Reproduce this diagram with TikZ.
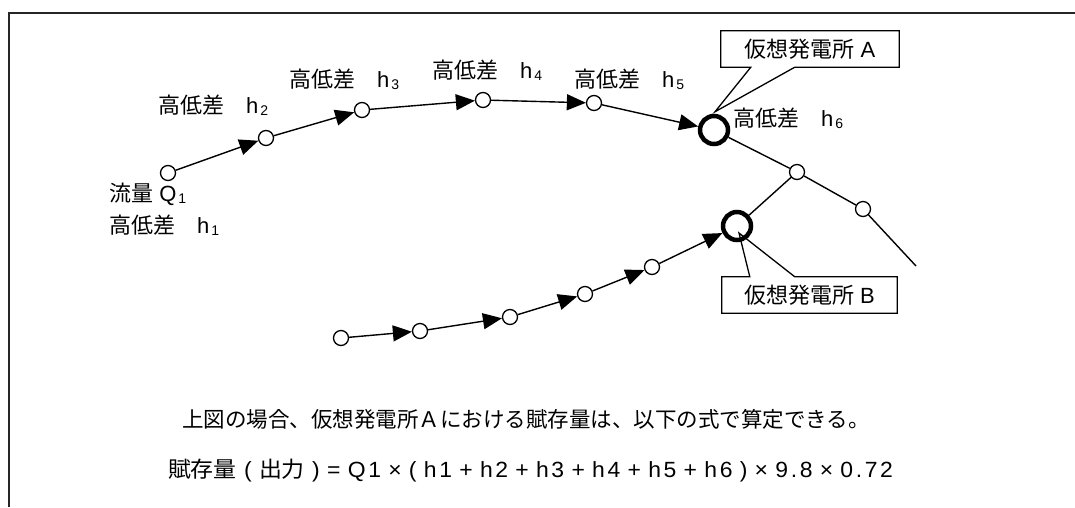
\documentclass[tikz,border=0pt]{standalone}
\usepackage{fontspec}
\setmainfont{Liberation Sans}
\newfontfamily\jp{Noto Sans CJK JP}
\usetikzlibrary{arrows.meta,calc}
\newcommand{\subd}[1]{\kern2pt\raisebox{-2pt}{\fontsize{14}{14}\selectfont #1}}
\newcommand{\hlab}[1]{{\jp 高低差　}h\subd{#1}}
\newcommand{\ks}{\kern2.5pt}
\newcommand{\ws}{\kern7pt}
\begin{document}
\begin{tikzpicture}[x=1pt,y=-1pt,
  every node/.style={font=\fontsize{22}{26}\selectfont},
  pt/.style={circle,draw,fill=white,line width=1.3pt,minimum size=15pt,inner sep=0pt},
  big/.style={circle,draw,fill=white,line width=4.5pt,minimum size=28pt,inner sep=0pt},
  conn/.style={line width=1.4pt},
  flow/.style={conn,-{Triangle[length=19pt,width=16pt]}},
  lab/.style={anchor=base west,inner sep=0pt},
  cbox/.style={inner sep=0pt,minimum height=36pt},
  callout/.style={line width=1.3pt,line join=miter}]
\useasboundingbox (0,0) rectangle (1075,507);
% frame
\draw[line width=2pt,black!85] (9,507) -- (9,13) -- (1075,13);
% nodes
\node[pt] (n1) at (168,173) {};
\node[pt] (n2) at (266,138) {};
\node[pt] (n3) at (362,110) {};
\node[pt] (n4) at (483,100) {};
\node[pt] (n5) at (594,103) {};
\node[big] (a) at (714,130) {};
\node[pt] (n7) at (797,172) {};
\node[pt] (n8) at (863,209) {};
\coordinate (end) at (916,266);
\node[big] (b) at (737,226) {};
\node[pt] (m1) at (341,338) {};
\node[pt] (m2) at (420,331) {};
\node[pt] (m3) at (510,317) {};
\node[pt] (m4) at (585,294) {};
\node[pt] (m5) at (652,267) {};
% connectors
\draw[flow] (n1) -- (n2);
\draw[flow] (n2) -- (n3);
\draw[flow] (n3) -- (n4);
\draw[flow] (n4) -- (n5);
\draw[flow] (n5) -- (a);
\draw[conn] (a) -- (n7);
\draw[conn] (n7) -- (n8);
\draw[conn] (n8) -- (end);
\draw[conn] (n7) -- (b);
\draw[flow] (m1) -- (m2);
\draw[flow] (m2) -- (m3);
\draw[flow] (m3) -- (m4);
\draw[flow] (m4) -- (m5);
\draw[flow] (m5) -- (b);
% labels
\node[lab] (l2) at (158,113) {\hlab{2}};
\node[lab] (l3) at (289,87) {\hlab{3}};
\node[lab] (l4) at (432,78) {\hlab{4}};
\node[lab] (l5) at (574,87) {\hlab{5}};
\node[lab] (l6) at (733,126) {\hlab{6}};
\node[lab] (q1) at (109,201) {{\jp 流量} Q\subd{1}};
\node[lab] (l1) at (109,233) {\hlab{1}};
% callouts
\node[cbox,minimum width=178pt] (ca) at (810,49) {{\jp 仮想発電所} A};
\draw[callout] ($(ca.south west)+(30,0)$) -- ($(a.north)+(1,-2)$) -- ($(ca.south west)+(74,0)$)
  -- (ca.south east) -- (ca.north east) -- (ca.north west) -- (ca.south west) -- cycle;
\node[cbox,minimum width=175pt] (cb) at (809.5,295) {{\jp 仮想発電所} B};
\draw[callout] ($(cb.north west)+(28,0)$) -- ($(b.center)+(2,7)$) -- ($(cb.north west)+(73,0)$)
  -- (cb.north east) -- (cb.south east) -- (cb.south west) -- (cb.north west) -- cycle;
% text
\node[anchor=base,inner sep=0pt,font=\fontsize{21.5}{26}\selectfont\jp] (t1) at (526,427)
  {上図の場合、仮想発電所Ａにおける賦存量は、以下の式で算定できる。};
\node[anchor=base,inner sep=0pt] (t2) at (530.5,477)
  {\resizebox{725pt}{\height}{{\jp 賦存量}\ws(\ws{\jp 出力}\ws)\ws=\ws Q\ks1\ws×\ws(\ws h\ks1\ws+\ws h\ks2\ws+\ws h\ks3\ws+\ws h\ks4\ws+\ws h\ks5\ws+\ws h\ks6\ws)\ws×\ws9\ks.\ks8\ws×\ws0\ks.\ks7\ks2}};
\end{tikzpicture}
\end{document}
